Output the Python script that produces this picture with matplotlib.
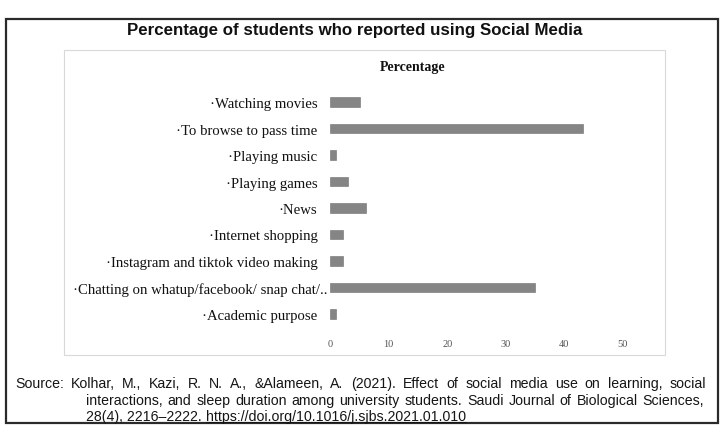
import matplotlib
matplotlib.use("Agg")
import matplotlib.pyplot as plt
from matplotlib.patches import Rectangle
from matplotlib.transforms import ScaledTranslation

categories = ["·Watching movies", "·To browse to pass time", "·Playing music",
              "·Playing games", "·News", "·Internet shopping",
              "·Instagram and tiktok video making",
              "·Chatting on whatup/facebook/ snap chat/..", "·Academic purpose"]
values = [5.1, 43.1, 1.1, 3.1, 6.2, 2.3, 2.3, 35.0, 1.0]
xticks = [0, 10, 20, 30, 40, 50]

title = "Percentage of students who reported using Social Media"
series_name = "Percentage"
source_lines = [
    "Source: Kolhar, M., Kazi, R. N. A., &Alameen, A. (2021). Effect of social media use on learning, social",
    "interactions, and sleep duration among university students. Saudi Journal of Biological Sciences,",
    "28(4), 2216\u20132222. ",
]
url = "https://doi.org/10.1016/j.sjbs.2021.01.010"

W, H = 723, 431
fig = plt.figure(figsize=(W / 100, H / 100), dpi=100)
fig.patch.set_facecolor("white")

def fx(px):
    return px / W

def fy(py):
    return 1 - py / H

# outer border
fig.add_artist(Rectangle((fx(6), fy(424)), fx(712), 404 / H, transform=fig.transFigure,
                         fill=False, edgecolor="#2a2a2a", linewidth=1.6))
# inner chart frame
fig.add_artist(Rectangle((fx(64), fy(356)), fx(601), 305 / H, transform=fig.transFigure,
                         fill=False, edgecolor="#d9d9d9", linewidth=0.8))

fig.text(fx(355), fy(31), title, ha="center", va="center", fontsize=12.2,
         fontweight="bold", family="Liberation Sans", color="#111111")
fig.text(fx(413), fy(68), series_name, ha="center", va="center", fontsize=10,
         fontweight="bold", family="Liberation Serif", color="#111111")

ax = fig.add_axes([fx(330), fy(328), fx(623 - 330), 238 / H])
y = list(range(len(categories)))
ax.barh(y, values, height=0.36, color="#858585", edgecolor="#6f6f6f", linewidth=0.4)
ax.set_xlim(0, 50)
ax.set_ylim(len(categories) - 0.5, -0.5)
ax.set_yticks(y)
ax.set_yticklabels(categories, family="Liberation Serif", fontsize=10.6, color="#111111")
ax.set_xticks(xticks)
ax.set_xticklabels([str(t) for t in xticks], family="Liberation Serif", fontsize=7.5,
                   color="#555555")
ax.tick_params(axis="y", length=0, pad=9)
ax.tick_params(axis="x", length=0, pad=9)
for s in ax.spines.values():
    s.set_visible(False)
ax.set_facecolor("none")

# the long label overflows toward the bars, as in the reference
lbl = ax.get_yticklabels()[7]
lbl.set_transform(lbl.get_transform() + ScaledTranslation(10 / 100, 0, fig.dpi_scale_trans))

src_font = dict(family="Liberation Sans", fontsize=10.2, color="#151515", va="baseline")
fig.canvas.draw()
r = fig.canvas.get_renderer()


def justified(line, x0, x1, ybase):
    words = line.split(" ")
    arts = [fig.text(0, fy(ybase), w, ha="left", **src_font) for w in words]
    widths = [a.get_window_extent(r).width for a in arts]
    gap = (x1 - x0 - sum(widths)) / (len(words) - 1)
    x = x0
    for a, w in zip(arts, widths):
        a.set_x(fx(x))
        x += w + gap


justified(source_lines[0], 15, 706, 388)
justified(source_lines[1], 86, 704, 405)
t3 = fig.text(fx(86), fy(421), source_lines[2], ha="left", **src_font)
bb = t3.get_window_extent(r)
tu = fig.text(bb.x1 / W, fy(421), url, ha="left", **src_font)
bb2 = tu.get_window_extent(r)
fig.add_artist(plt.Line2D([bb2.x0 / W, bb2.x1 / W], [fy(423), fy(423)],
                          transform=fig.transFigure, color="#151515", linewidth=0.7))

fig.savefig("out.png", dpi=100)
